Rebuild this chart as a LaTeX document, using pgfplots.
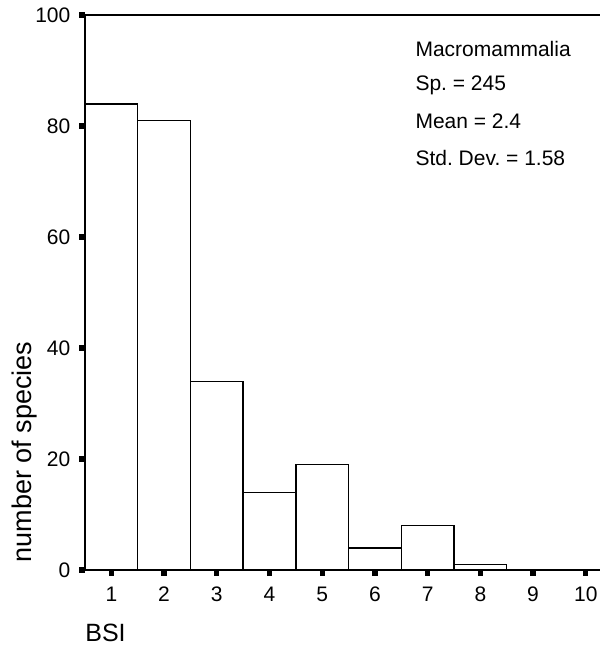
\documentclass[border=0pt]{standalone}
\usepackage{fontspec}
\setmainfont{Liberation Sans}
\usepackage{pgfplots}
\pgfplotsset{compat=1.18}
\frenchspacing
\begin{document}
\begin{tikzpicture}
\begin{axis}[
  name=ax, at={(0,0)}, anchor=south west,
  scale only axis,
  width=257.5pt, height=277.5pt,
  xmin=0.5, xmax=10.27, ymin=0, ymax=100,
  axis x line=box, axis y line=left,
  x axis line style={-, line width=1pt},
  y axis line style={-, line width=1pt},
  xtick={1,...,10}, ytick={0,20,...,100},
  xtick pos=bottom, ytick pos=left,
  tick align=outside,
  major tick length=2.8pt,
  tick style={line width=2.6pt, black},
  /pgf/number format/assume math mode=true,
  ticklabel style={font=\fontsize{10.5}{12}\selectfont},
  xticklabel style={yshift=-2pt},
  yticklabel style={xshift=-1pt},
  ybar, bar width=1, bar shift=0pt,
  clip=false,
]
\addplot[draw=black, fill=white, line width=0.75pt] coordinates {
  (1,84) (2,81) (3,34) (4,14) (5,19) (6,4) (7,8) (8,1)
};
\node[anchor=west, inner sep=0pt, font=\fontsize{10.5}{12}\selectfont] at (rel axis cs:0.641,0.9387) {Macromammalia};
\node[anchor=west, inner sep=0pt, font=\fontsize{10.5}{12}\selectfont] at (rel axis cs:0.641,0.874) {Sp. = 245};
\node[anchor=west, inner sep=0pt, font=\fontsize{10.5}{12}\selectfont] at (rel axis cs:0.641,0.809) {Mean = 2.4};
\node[anchor=west, inner sep=0pt, font=\fontsize{10.5}{12}\selectfont] at (rel axis cs:0.641,0.742) {Std. Dev. = 1.58};
\node[rotate=90, font=\fontsize{13.5}{15}\selectfont] at (rel axis cs:-0.1165,0.2126) {number of species};
\node[anchor=west, font=\fontsize{12.5}{14}\selectfont, inner sep=0pt] at (rel axis cs:0,-0.1135) {BSI};
\end{axis}
\pgfresetboundingbox
\path (-42.5pt,-38pt) rectangle (259pt,285pt);
\end{tikzpicture}
\end{document}
